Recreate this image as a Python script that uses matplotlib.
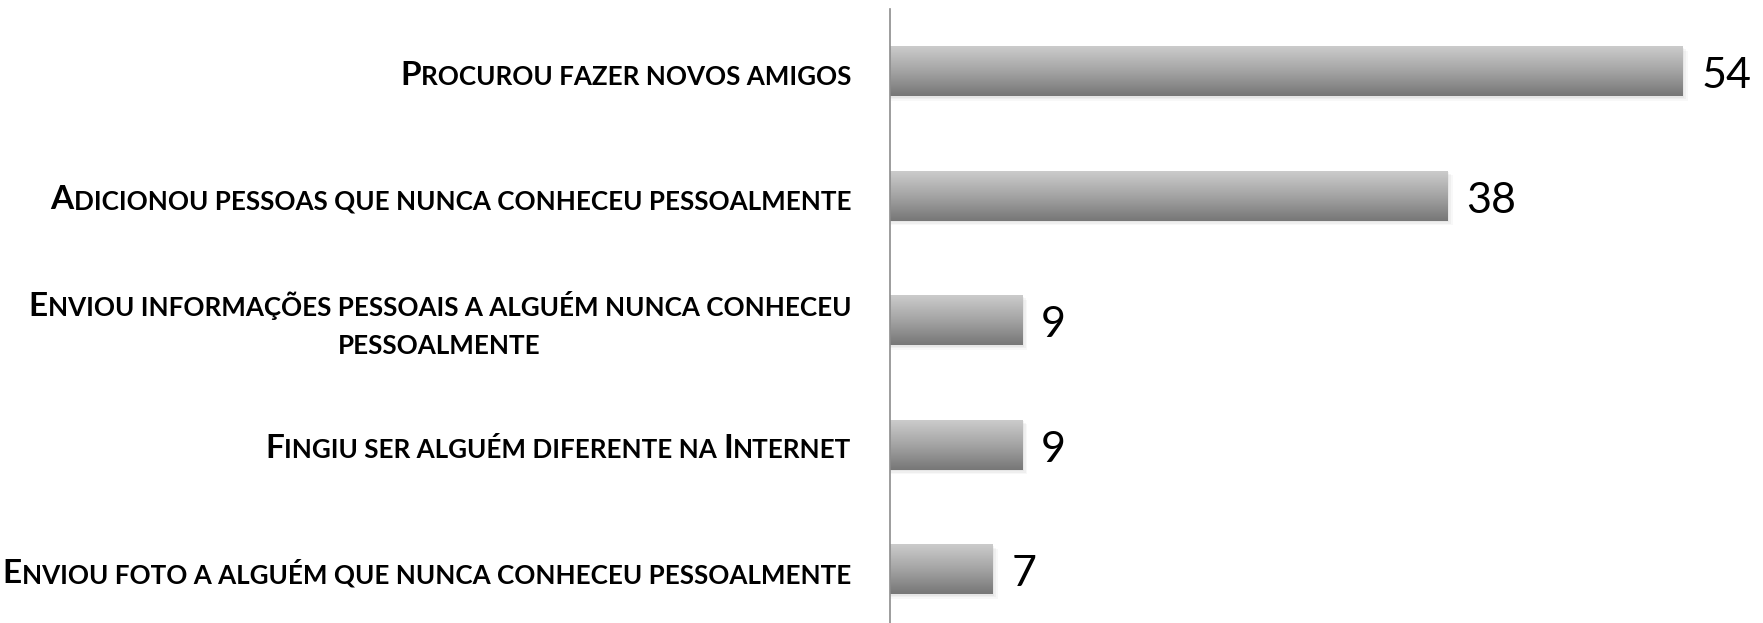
import numpy as np
import matplotlib
matplotlib.use('Agg')
import matplotlib.pyplot as plt
from matplotlib.colors import LinearSegmentedColormap
from matplotlib.offsetbox import TextArea, HPacker, VPacker, AnnotationBbox
from matplotlib.patches import Rectangle

labels = ["Procurou fazer novos amigos",
          "Adicionou pessoas que nunca conheceu pessoalmente",
          "Enviou informações pessoais a alguém nunca conheceu\npessoalmente",
          "Fingiu ser alguém diferente na Internet",
          "Enviou foto a alguém que nunca conheceu pessoalmente"]
values = [54, 38, 9, 9, 7]

FONT = 'Lato'
BIG, SMALL = 24, 18.7
plt.rcParams['font.family'] = [FONT, 'DejaVu Sans']


def small_caps_line(line):
    """Split a line into runs: uppercase letters big, the rest as small caps."""
    runs, cur, cur_big = [], '', None
    for ch in line:
        is_big = ch.isupper()
        if cur_big is None or is_big == cur_big:
            cur += ch
        else:
            runs.append((cur, cur_big))
            cur = ch
        cur_big = is_big
    if cur:
        runs.append((cur, cur_big))
    boxes = [TextArea(t.upper(), textprops=dict(fontsize=BIG if b else SMALL,
                                                fontweight='bold', family=FONT))
             for t, b in runs]
    return HPacker(children=boxes, align='baseline', pad=0, sep=0)


fig = plt.figure(figsize=(17.63, 6.23), dpi=100)
ax = fig.add_axes([890 / 1763, 0, 1 - 890 / 1763, 614 / 623])

n = len(values)
ys = np.arange(n)[::-1]
h = 0.40
cmap = LinearSegmentedColormap.from_list('g', ['#777777', '#a4a4a4', '#cbcbcb'])
grad = np.linspace(0, 1, 64)[:, None]

for y, v in zip(ys, values):
    # soft shadow
    for k, a in enumerate([0.06, 0.05, 0.04]):
        ax.add_patch(Rectangle((0, y - h / 2 - 0.012 * (k + 1)), v + 0.12 * (k + 1), h,
                               color='#555555', alpha=a, lw=0, zorder=1))
    ax.imshow(grad, extent=(0, v, y - h / 2, y + h / 2), origin='lower',
              aspect='auto', cmap=cmap, zorder=2, interpolation='bilinear')
    ax.annotate(str(v), (v, y), xytext=(19, -5), textcoords='offset pixels',
                va='center', ha='left', fontsize=31, family=FONT, color='black')

for y, lab in zip(ys, labels):
    lines = [small_caps_line(l) for l in lab.split('\n')]
    box = lines[0] if len(lines) == 1 else VPacker(children=lines, align='center', pad=0, sep=9)
    ab = AnnotationBbox(box, (0, y), xybox=(-39, -4), xycoords='data',
                        boxcoords='offset pixels', box_alignment=(1, 0.5),
                        frameon=False, annotation_clip=False)
    ax.add_artist(ab)

ax.set_xlim(0, 59.5)
ax.set_ylim(-0.43, n - 1 + 0.5)
for s in ['top', 'right', 'bottom']:
    ax.spines[s].set_visible(False)
ax.spines['left'].set_color('#8c8c8c')
ax.spines['left'].set_linewidth(1.2)
ax.set_xticks([])
ax.set_yticks([])
ax.patch.set_alpha(0)

fig.savefig('out.png', dpi=100)
